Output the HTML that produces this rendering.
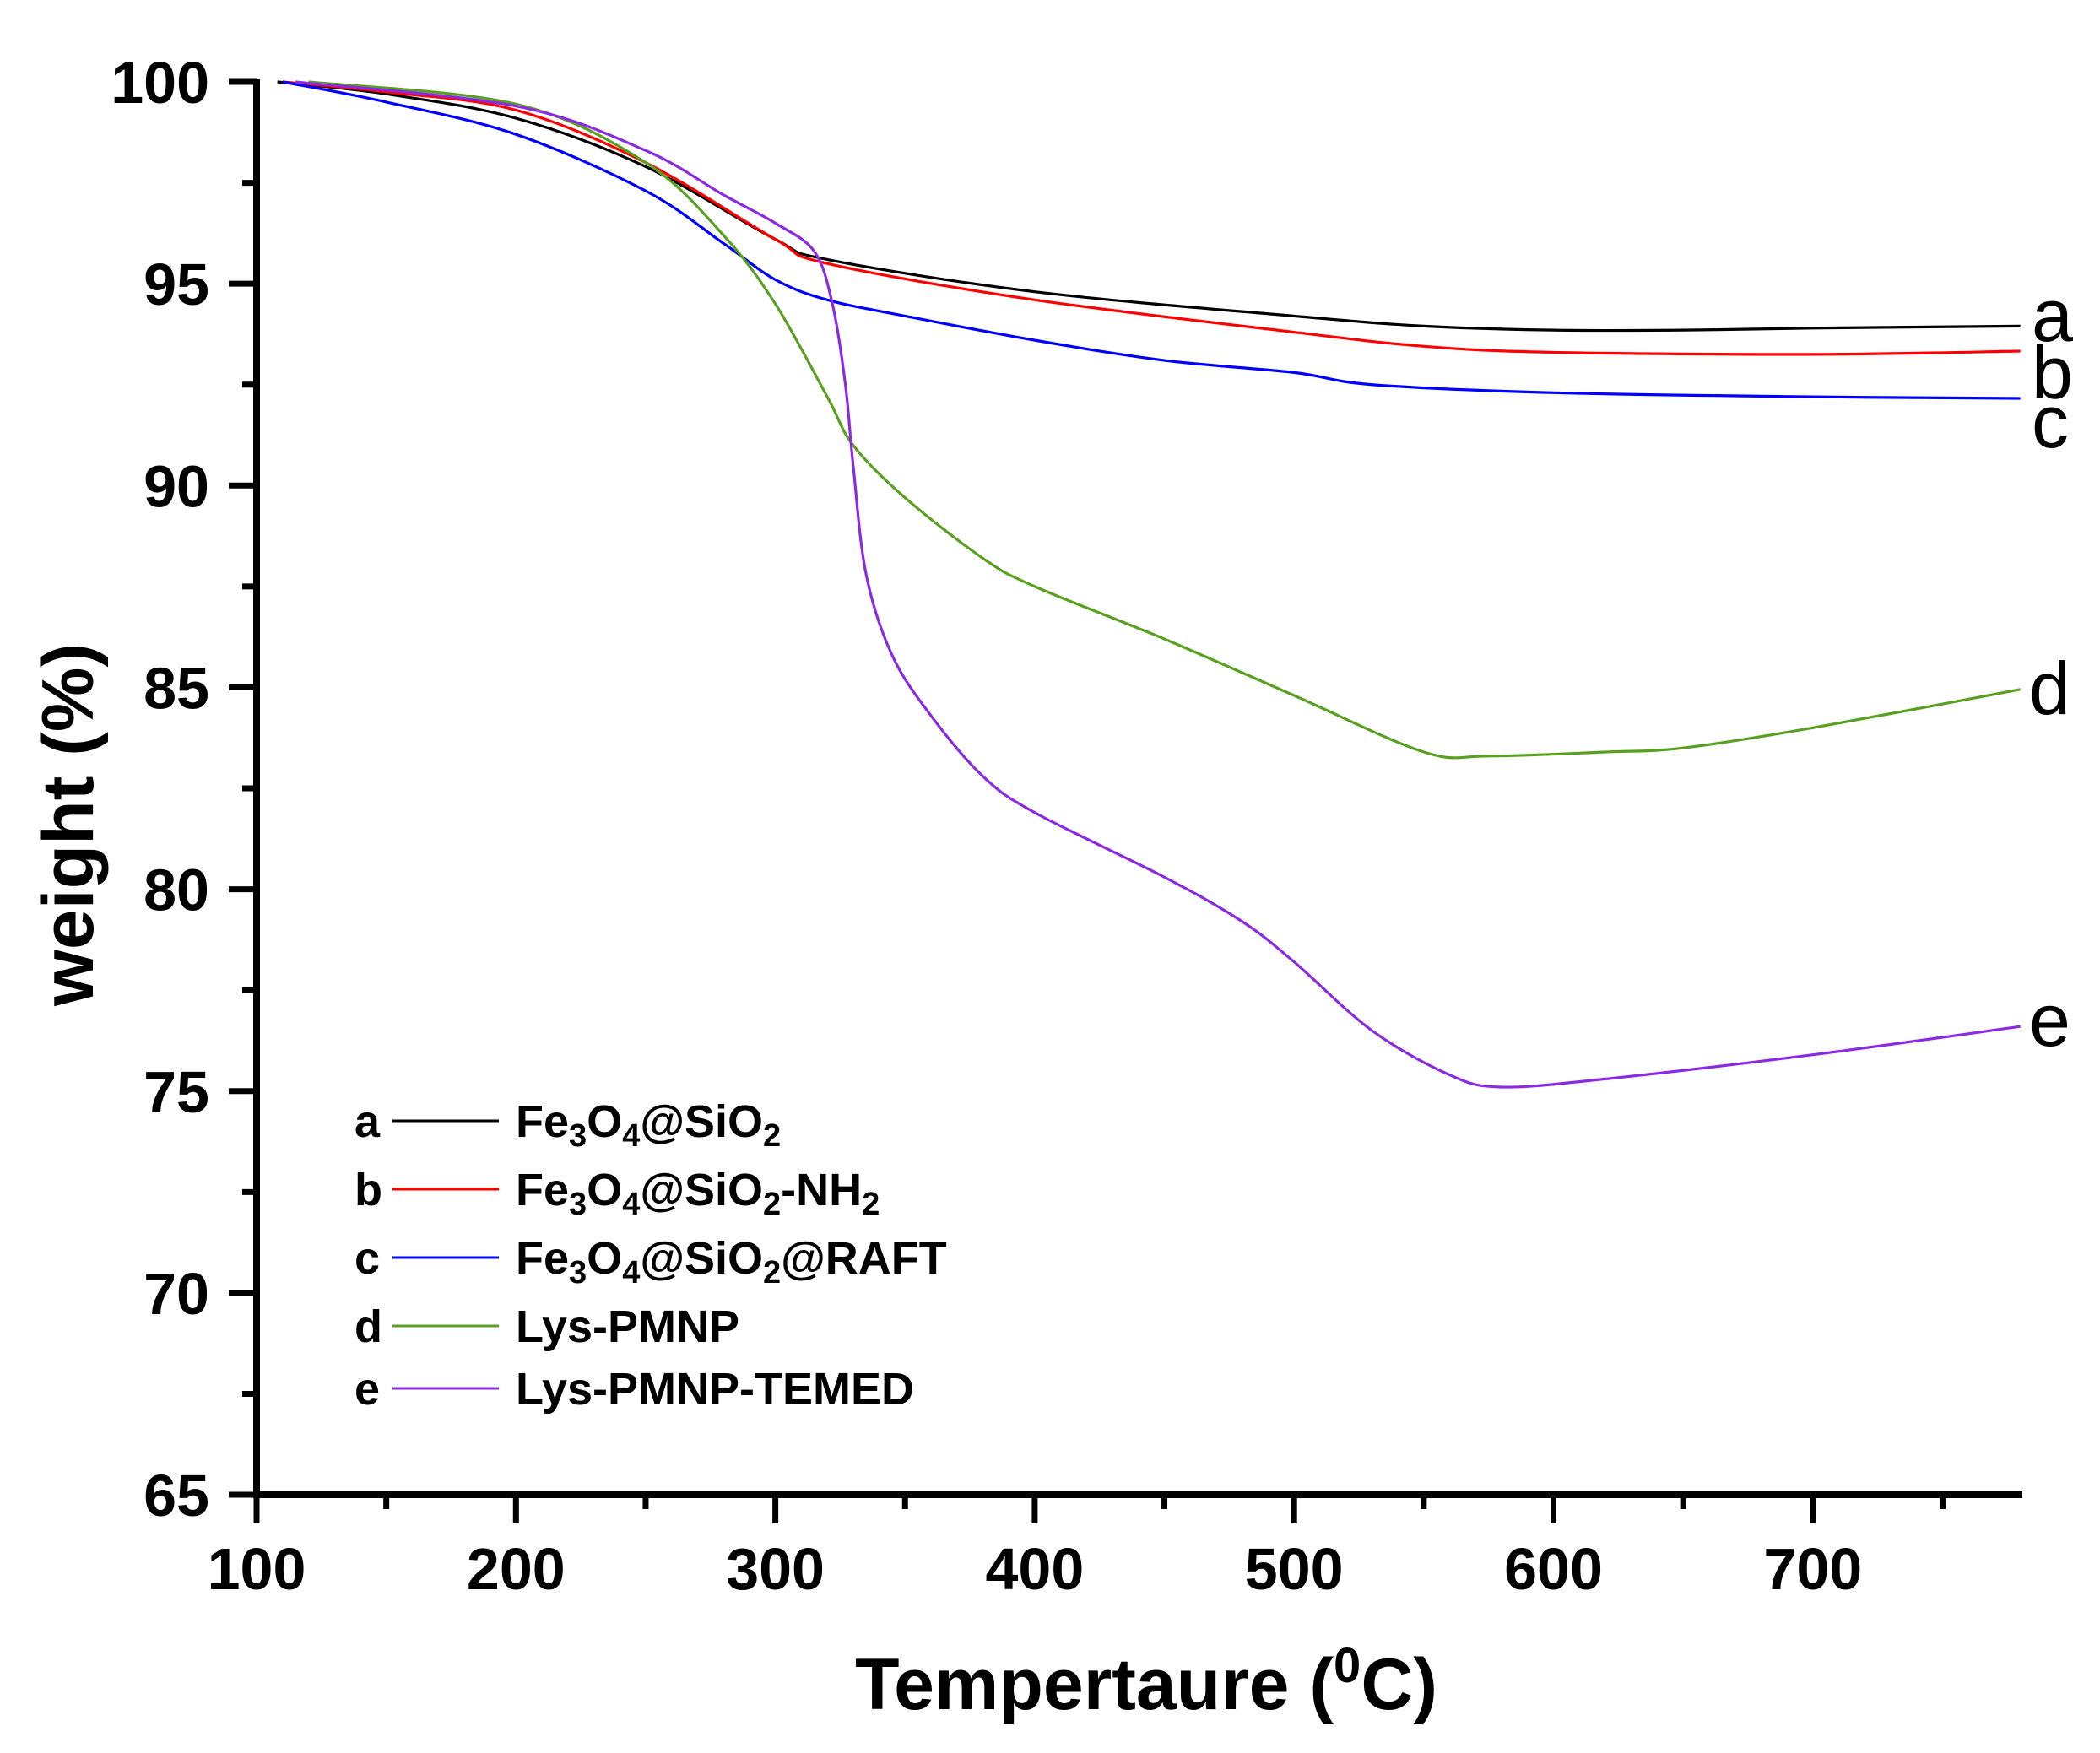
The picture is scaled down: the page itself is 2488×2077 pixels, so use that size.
<!DOCTYPE html>
<html><head><meta charset="utf-8"><style>
html,body{margin:0;padding:0;background:#fff}
svg{display:block}
text{font-family:"Liberation Sans",Arial,sans-serif}
</style></head><body>
<svg id="s" width="2488" height="2077" viewBox="0 0 2488 2077" xmlns="http://www.w3.org/2000/svg">
<g id="ticks" stroke="#000" stroke-width="7"></g>
<g id="curves" fill="none" stroke-width="3.2" stroke-linejoin="round"></g>
<line x1="304" y1="94" x2="304" y2="1775" stroke="#000" stroke-width="8"/>
<line x1="300" y1="1771" x2="2396" y2="1771" stroke="#000" stroke-width="8"/>
<g id="labels" font-weight="bold" font-size="70"></g>
<g font-size="88" fill="#000">
<text x="2407" y="404">a</text><text x="2407" y="472">b</text><text x="2407" y="530">c</text>
<text x="2404" y="846">d</text><text x="2404" y="1239">e</text>
</g>
<text x="1358" y="2025" text-anchor="middle" font-weight="bold" font-size="86">Tempertaure (<tspan font-size="58" dy="-32">0</tspan><tspan dy="32">C)</tspan></text>
<text transform="translate(110,977) rotate(-90)" text-anchor="middle" font-weight="bold" font-size="86">weight (%)</text>
<g font-weight="bold" font-size="54">
<text x="420" y="1347">a</text><line x1="465" y1="1328" x2="591" y2="1328" stroke="#000" stroke-width="3"/>
<text x="611" y="1347">Fe<tspan font-size="38" dy="11">3</tspan><tspan dy="-11">O</tspan><tspan font-size="38" dy="11">4</tspan><tspan dy="-11">@SiO</tspan><tspan font-size="38" dy="11">2</tspan></text>
<text x="420" y="1428">b</text><line x1="465" y1="1409" x2="591" y2="1409" stroke="#f00" stroke-width="3"/>
<text x="611" y="1428">Fe<tspan font-size="38" dy="11">3</tspan><tspan dy="-11">O</tspan><tspan font-size="38" dy="11">4</tspan><tspan dy="-11">@SiO</tspan><tspan font-size="38" dy="11">2</tspan><tspan dy="-11">-NH</tspan><tspan font-size="38" dy="11">2</tspan></text>
<text x="420" y="1509">c</text><line x1="465" y1="1490" x2="591" y2="1490" stroke="#00f" stroke-width="3"/>
<text x="611" y="1509">Fe<tspan font-size="38" dy="11">3</tspan><tspan dy="-11">O</tspan><tspan font-size="38" dy="11">4</tspan><tspan dy="-11">@SiO</tspan><tspan font-size="38" dy="11">2</tspan><tspan dy="-11">@RAFT</tspan></text>
<text x="420" y="1590">d</text><line x1="465" y1="1571" x2="591" y2="1571" stroke="#5aa020" stroke-width="3"/>
<text x="611" y="1590">Lys-PMNP</text>
<text x="420" y="1664">e</text><line x1="465" y1="1645" x2="591" y2="1645" stroke="#8a2be2" stroke-width="3"/>
<text x="611" y="1664">Lys-PMNP-TEMED</text>
</g>
</svg>
<script>
var X=function(t){return 304+(t-100)*3.073},Y=function(w){return 97+(100-w)*47.83};
var NS="http://www.w3.org/2000/svg";
function el(p,n,a,t){var e=document.createElementNS(NS,n);for(var k in a)e.setAttribute(k,a[k]);if(t!=null)e.textContent=t;document.getElementById(p).appendChild(e);}
for(var w=65;w<=100;w+=2.5){var maj=(w%5==0);el("ticks","line",{x1:304-(maj?33:17),x2:304,y1:Y(w),y2:Y(w)});if(maj)el("labels","text",{x:248,y:Y(w)+25,"text-anchor":"end"},w);}
for(var t=100;t<=750;t+=50){var maj=(t%100==0);el("ticks","line",{x1:X(t),x2:X(t),y1:1771,y2:1771+(maj?34:17)});if(maj)el("labels","text",{x:X(t),y:1883,"text-anchor":"middle"},t);}
var D={
"#000":[[108,100],[150,99.7],[200,99.1],[250,97.9],[300,96.1],[320,95.6],[400,94.8],[500,94.2],[550,93.95],[600,93.85],[650,93.85],[700,93.9],[780,93.95]],
"#f00":[[110,100],[150,99.75],[200,99.3],[250,98],[300,96.1],[320,95.5],[400,94.6],[500,93.8],[550,93.45],[600,93.3],[700,93.25],[780,93.33]],
"#00f":[[110,100],[150,99.5],[200,98.7],[250,97.3],[280,96],[300,95.1],[320,94.6],[350,94.2],[400,93.6],[450,93.1],[500,92.8],[530,92.5],[600,92.3],[700,92.2],[780,92.16]],
"#5aa020":[[120,100],[200,99.45],[250,98.0],[280,96.2],[300,94.5],[320,92.2],[330,91.0],[350,89.7],[380,88.2],[400,87.5],[450,86.2],[500,84.8],[550,83.4],[575,83.3],[620,83.4],[650,83.5],[700,84.0],[780,84.95]],
"#8a2be2":[[115,100],[200,99.4],[250,98.3],[280,97.2],[300,96.5],[315,95.8],[322,94.5],[327,92.5],[330,90.5],[335,87.8],[345,85.8],[360,84.3],[380,82.8],[400,81.9],[450,80.3],[480,79.2],[500,78.2],[530,76.5],[560,75.4],[580,75.1],[620,75.3],[700,75.9],[780,76.6]]};
for(var c in D){var p=D[c].map(function(a){return [X(a[0]),Y(a[1])]});var d="M"+p[0][0]+","+p[0][1];
for(var i=0;i<p.length-1;i++){var p0=p[i-1]||p[i],p1=p[i],p2=p[i+1],p3=p[i+2]||p2;
d+=" C"+(p1[0]+(p2[0]-p0[0])/6)+","+(p1[1]+(p2[1]-p0[1])/6)+" "+(p2[0]-(p3[0]-p1[0])/6)+","+(p2[1]-(p3[1]-p1[1])/6)+" "+p2[0]+","+p2[1];}
el("curves","path",{d:d,stroke:c});}
</script>
</body></html>
